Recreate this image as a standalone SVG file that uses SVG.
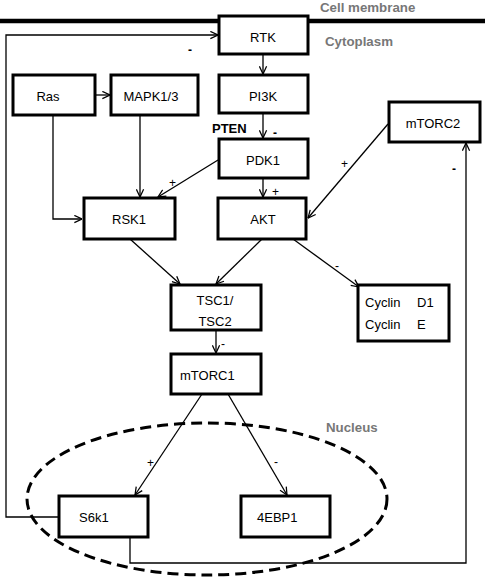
<svg xmlns="http://www.w3.org/2000/svg" width="485" height="577" viewBox="0 0 485 577">
<style>
.box{fill:#fff;stroke:#000;stroke-width:3}
.t{font-family:"Liberation Sans",Arial,sans-serif;font-size:13px;fill:#000}
.c{stroke:#000;stroke-width:1.3;fill:none}
.reg{font-family:"Liberation Sans",Arial,sans-serif;font-size:13.3px;font-weight:bold;fill:#777}
.s{font-family:"Liberation Sans",Arial,sans-serif;font-size:12px;fill:#000}
.m{font-family:"Liberation Sans",Arial,sans-serif;font-size:12px;font-weight:bold;fill:#000}
</style>
<defs>
<marker id="a" viewBox="0 0 10 10" refX="9.5" refY="5" markerWidth="9" markerHeight="9" markerUnits="userSpaceOnUse" orient="auto">
<polyline points="1,1 9.5,5 1,9" fill="none" stroke="#000" stroke-width="1.4"/>
</marker>
</defs>
<rect width="485" height="577" fill="#fff"/>
<line x1="0" y1="21" x2="485" y2="21" stroke="#000" stroke-width="4.5"/>
<text class="reg" x="320" y="12">Cell membrane</text>
<text class="reg" x="325" y="46">Cytoplasm</text>
<ellipse cx="207" cy="499" rx="180" ry="76" fill="none" stroke="#000" stroke-width="3" stroke-dasharray="11,6"/>
<text class="reg" x="326" y="432">Nucleus</text>
<g id="connectors">
<polyline class="c" points="58,517 6,517 6,35 218,35" marker-end="url(#a)"/>
<polyline class="c" points="130,537 130,563 466,563 466,143" marker-end="url(#a)"/>
<line class="c" x1="263" y1="54" x2="263" y2="74" marker-end="url(#a)"/>
<line class="c" x1="95" y1="95" x2="110" y2="95" marker-end="url(#a)"/>
<polyline class="c" points="53,115 53,219 82,219" marker-end="url(#a)"/>
<line class="c" x1="140" y1="115" x2="140" y2="197" marker-end="url(#a)"/>
<line class="c" x1="218" y1="160" x2="158" y2="197" marker-end="url(#a)"/>
<line class="c" x1="263" y1="113" x2="263" y2="138" marker-end="url(#a)"/>
<line class="c" x1="263" y1="178" x2="263" y2="197" marker-end="url(#a)"/>
<line class="c" x1="388" y1="124" x2="308" y2="218" marker-end="url(#a)"/>
<line class="c" x1="130" y1="239" x2="180" y2="284" marker-end="url(#a)"/>
<line class="c" x1="262" y1="239" x2="216" y2="284" marker-end="url(#a)"/>
<line class="c" x1="293" y1="239" x2="359" y2="287" marker-end="url(#a)"/>
<line class="c" x1="216" y1="330" x2="216" y2="353" marker-end="url(#a)"/>
<line class="c" x1="202" y1="394" x2="135" y2="495" marker-end="url(#a)"/>
<line class="c" x1="228" y1="394" x2="287" y2="495" marker-end="url(#a)"/>
<text class="m" x="188" y="54">-</text>
<text class="m" x="452" y="173">-</text>
<text class="s" x="169" y="187">+</text>
<text class="m" x="273" y="137">-</text>
<text class="t" x="212" y="133" style="font-weight:bold">PTEN</text>
<text class="s" x="272" y="196">+</text>
<text class="s" x="341" y="168">+</text>
<text class="s" x="335" y="270">-</text>
<text class="s" x="221" y="348">-</text>
<text class="s" x="147" y="467">+</text>
<text class="s" x="274" y="466">-</text>
</g>
<g id="RTK"><rect class="box" x="219" y="16" width="89" height="38"/><text class="t" x="263" y="42" text-anchor="middle">RTK</text></g>
<g id="PI3K"><rect class="box" x="219" y="75" width="89" height="38"/><text class="t" x="263" y="101" text-anchor="middle">PI3K</text></g>
<g id="Ras"><rect class="box" x="13" y="75" width="82" height="40"/><text class="t" x="48" y="101" text-anchor="middle">Ras</text></g>
<g id="MAPK"><rect class="box" x="111" y="75" width="87" height="40"/><text class="t" x="151" y="101" text-anchor="middle">MAPK1/3</text></g>
<g id="mTORC2"><rect class="box" x="389" y="102" width="91" height="40"/><text class="t" x="433" y="128" text-anchor="middle">mTORC2</text></g>
<g id="PDK1"><rect class="box" x="219" y="139" width="89" height="39"/><text class="t" x="263" y="165" text-anchor="middle">PDK1</text></g>
<g id="RSK1"><rect class="box" x="84" y="198" width="91" height="41"/><text class="t" x="129" y="224" text-anchor="middle">RSK1</text></g>
<g id="AKT"><rect class="box" x="218" y="198" width="88" height="41"/><text class="t" x="263" y="224" text-anchor="middle">AKT</text></g>
<g id="TSC"><rect class="box" x="171" y="285" width="90" height="45"/><text class="t" x="215" y="305" text-anchor="middle">TSC1/</text><text class="t" x="215" y="326" text-anchor="middle">TSC2</text></g>
<g id="Cyclin"><rect class="box" x="358" y="285" width="91" height="56"/><text class="t" x="365" y="307">Cyclin</text><text class="t" x="417" y="307">D1</text><text class="t" x="365" y="329">Cyclin</text><text class="t" x="417" y="329">E</text></g>
<g id="mTORC1"><rect class="box" x="171" y="354" width="90" height="40"/><text class="t" x="180" y="380">mTORC1</text></g>
<g id="S6k1"><rect class="box" x="59" y="496" width="89" height="41"/><text class="t" x="79" y="522">S6k1</text></g>
<g id="EBP1"><rect class="box" x="241" y="496" width="89" height="41"/><text class="t" x="257" y="522">4EBP1</text></g>
</svg>
